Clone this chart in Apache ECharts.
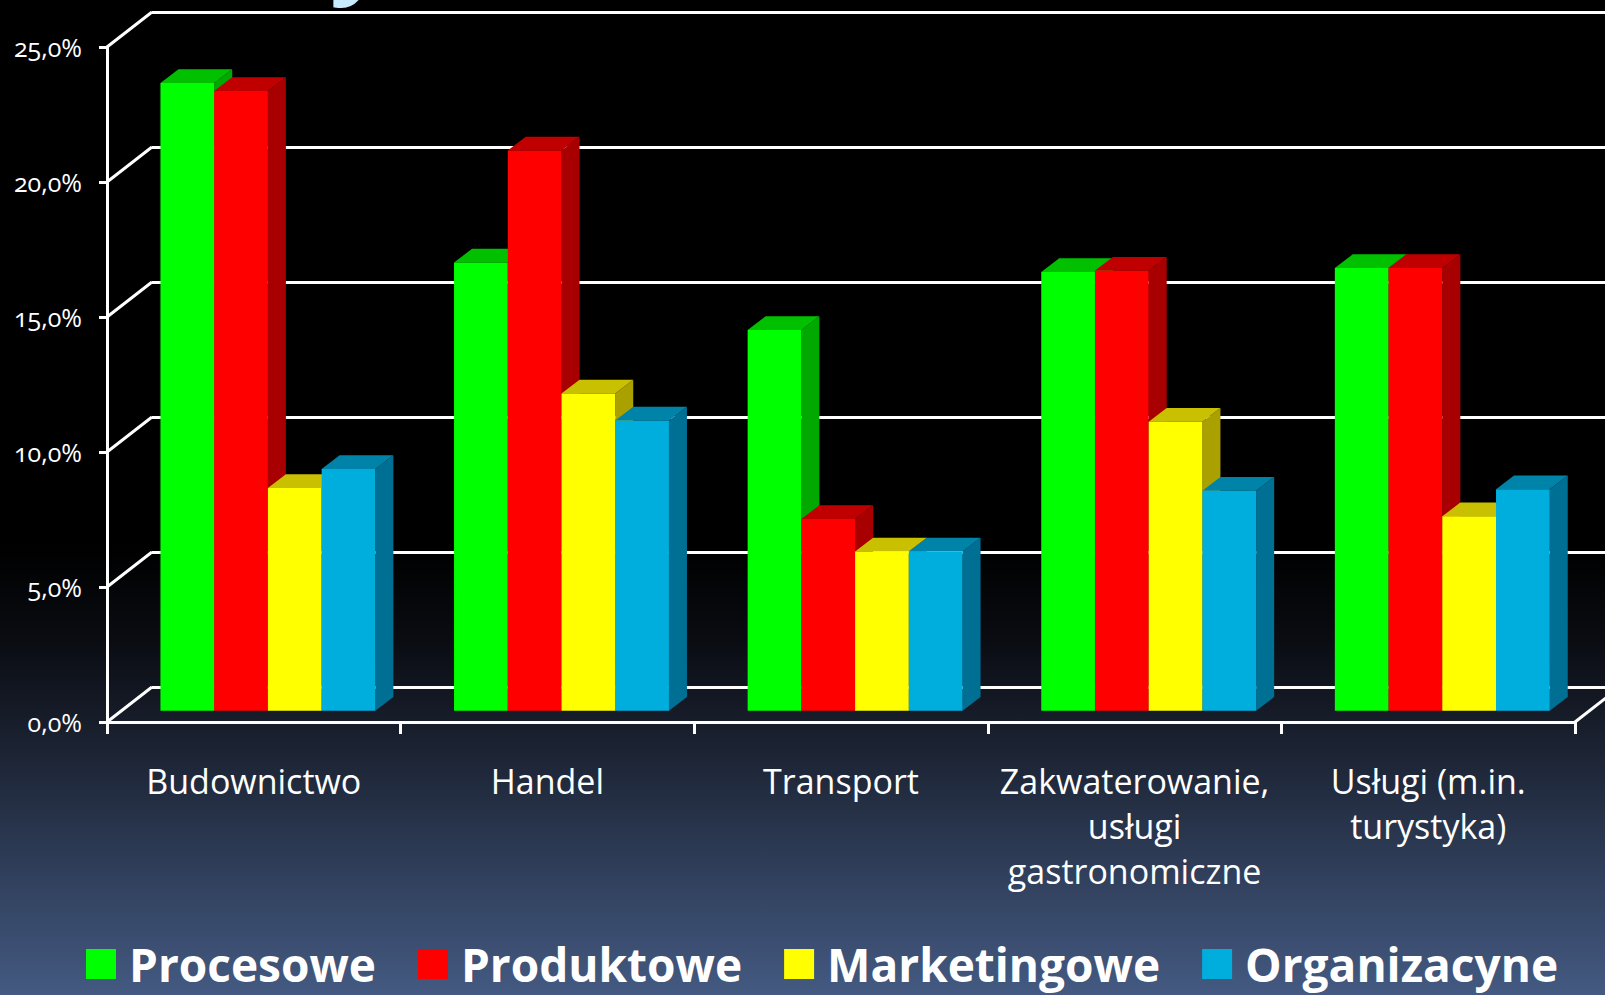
<!DOCTYPE html>
<html>

<head>
    <meta charset="utf-8">
    <title>ECharts</title>
    <script src="https://cdn.jsdelivr.net/npm/echarts@6/dist/echarts.min.js"></script>
    <style>
        html, body { margin: 0; padding: 0; background: #000; overflow: hidden; }
        #main { width: 1605px; height: 995px; font-feature-settings: "onum" 1; }
    </style>
</head>

<body>
    <div id="main"></div>
    <script>
        var categories = ['Budownictwo', 'Handel', 'Transport', 'Zakwaterowanie,\nusługi\ngastronomiczne', 'Usługi (m.in.\nturystyka)'];
        var procesowe = [23.25, 16.6, 14.1, 16.25, 16.4];
        var produktowe = [22.95, 20.75, 7.1, 16.3, 16.4];
        var marketingowe = [8.25, 11.75, 5.9, 10.7, 7.2];
        var organizacyjne = [8.95, 10.75, 5.9, 8.15, 8.2];
        var yTicks = [0, 5, 10, 15, 20, 25];

        var seriesColors = [
            // front, top, side
            ['#00ff00', '#00c000', '#00a800'],
            ['#ff0000', '#c00000', '#a80000'],
            ['#ffff00', '#c8c000', '#aaa000'],
            ['#00aede', '#0083a8', '#006f94']
        ];

        var myChart = echarts.init(document.getElementById('main'), null, { renderer: 'svg' });

        // depth of the chart box and of the bars
        var wallDx = 45, wallDy = 35;
        var floorDx = 14.1, floorDy = 11.3;
        var barDx = 18, barDy = 13.7;
        var barShare = 0.183;

        function barSeries(name, values, index) {
            var c = seriesColors[index];
            return {
                name: name,
                type: 'custom',
                xAxisIndex: 0,
                yAxisIndex: 0,
                itemStyle: { color: c[0] },
                data: values,
                renderItem: function (params, api) {
                    var cat = params.dataIndex;
                    var base = api.coord([cat, 0]);
                    var top = api.coord([cat, api.value(1)]);
                    var w = api.size([1, 0])[0] * barShare;
                    var x0 = base[0] + floorDx + (index - 2) * w;
                    var x1 = x0 + w;
                    var y0 = base[1] - floorDy;
                    var y1 = top[1] - floorDy;
                    return {
                        type: 'group',
                        children: [{
                            type: 'polygon',
                            shape: { points: [[x1, y0], [x1 + barDx, y0 - barDy], [x1 + barDx, y1 - barDy], [x1, y1]] },
                            style: { fill: c[2] }
                        }, {
                            type: 'polygon',
                            shape: { points: [[x0, y1], [x0 + barDx, y1 - barDy], [x1 + barDx, y1 - barDy], [x1, y1]] },
                            style: { fill: c[1] }
                        }, {
                            type: 'rect',
                            shape: { x: x0, y: y1, width: w, height: y0 - y1 },
                            style: { fill: c[0] }
                        }]
                    };
                }
            };
        }

        option = {
            backgroundColor: {
                type: 'linear', x: 0, y: 0, x2: 0, y2: 1,
                colorStops: [
                    { offset: 0, color: '#000000' },
                    { offset: 0.55, color: '#000000' },
                    { offset: 0.643, color: '#0a0c12' },
                    { offset: 0.726, color: '#171d2a' },
                    { offset: 1, color: '#445a82' }
                ]
            },
            animation: false,
            textStyle: { fontFamily: 'Open Sans' },
            legend: {
                left: 86,
                top: 941,
                itemWidth: 30,
                itemHeight: 30,
                itemGap: 42,
                icon: 'rect',
                padding: 0,
                data: ['Procesowe', 'Produktowe', 'Marketingowe', 'Organizacyne'],
                textStyle: { color: '#fff', fontSize: 46, fontWeight: 'bold', fontFamily: 'Open Sans', padding: [0, 0, 14, 8] }
            },
            grid: [
                { left: 107, top: 47, width: 1468, height: 675 },
                { left: 152, top: 12, width: 1468, height: 675 }
            ],
            xAxis: [{
                type: 'category',
                gridIndex: 0,
                data: categories,
                axisLine: { lineStyle: { color: '#fff', width: 3 } },
                axisTick: { show: true, alignWithLabel: false, length: 12, lineStyle: { color: '#fff', width: 3 } },
                axisLabel: { color: '#fff', fontSize: 34, fontWeight: 400, lineHeight: 45, margin: 36, interval: 0, hideOverlap: false }
            }, {
                type: 'category',
                gridIndex: 1,
                show: false,
                data: categories
            }],
            yAxis: [{
                type: 'value',
                gridIndex: 0,
                min: 0,
                max: 25,
                interval: 5,
                splitLine: { show: false },
                axisLine: { show: true, lineStyle: { color: '#fff', width: 3 } },
                axisTick: { show: true, length: 8, lineStyle: { color: '#fff', width: 3 } },
                axisLabel: {
                    color: '#fff', fontSize: 25, fontWeight: 400, margin: 25,
                    formatter: function (v) { return v.toFixed(1).replace('.', ',') + '%'; }
                }
            }, {
                type: 'value',
                gridIndex: 1,
                min: 0,
                max: 25,
                interval: 5,
                axisLine: { show: false },
                axisTick: { show: false },
                axisLabel: { show: false },
                splitLine: { lineStyle: { color: '#fff', width: 3 } }
            }],
            graphic: [{
                type: 'text',
                left: 330,
                top: -105,
                silent: true,
                style: { text: 'y', fill: '#c8ecff', font: 'bold 100px "Open Sans"' }
            }],
            series: [{
                // slanted edges joining the front axes to the back wall
                type: 'custom',
                xAxisIndex: 0,
                yAxisIndex: 0,
                silent: true,
                data: yTicks,
                renderItem: function (params, api) {
                    var p = api.coord([0, api.value(1)]);
                    var left = params.coordSys.x;
                    var children = [{
                        type: 'line',
                        shape: { x1: left, y1: p[1], x2: left + wallDx, y2: p[1] - wallDy },
                        style: { stroke: '#fff', lineWidth: 3 }
                    }];
                    if (params.dataIndex === 0) {
                        var right = left + params.coordSys.width;
                        children.push({
                            type: 'line',
                            shape: { x1: right, y1: p[1], x2: right + wallDx, y2: p[1] - wallDy },
                            style: { stroke: '#fff', lineWidth: 3 }
                        });
                    }
                    return { type: 'group', children: children };
                }
            },
            barSeries('Procesowe', procesowe, 0),
            barSeries('Produktowe', produktowe, 1),
            barSeries('Marketingowe', marketingowe, 2),
            barSeries('Organizacyne', organizacyjne, 3)]
        };

        myChart.setOption(option);
    </script>
</body>

</html>
